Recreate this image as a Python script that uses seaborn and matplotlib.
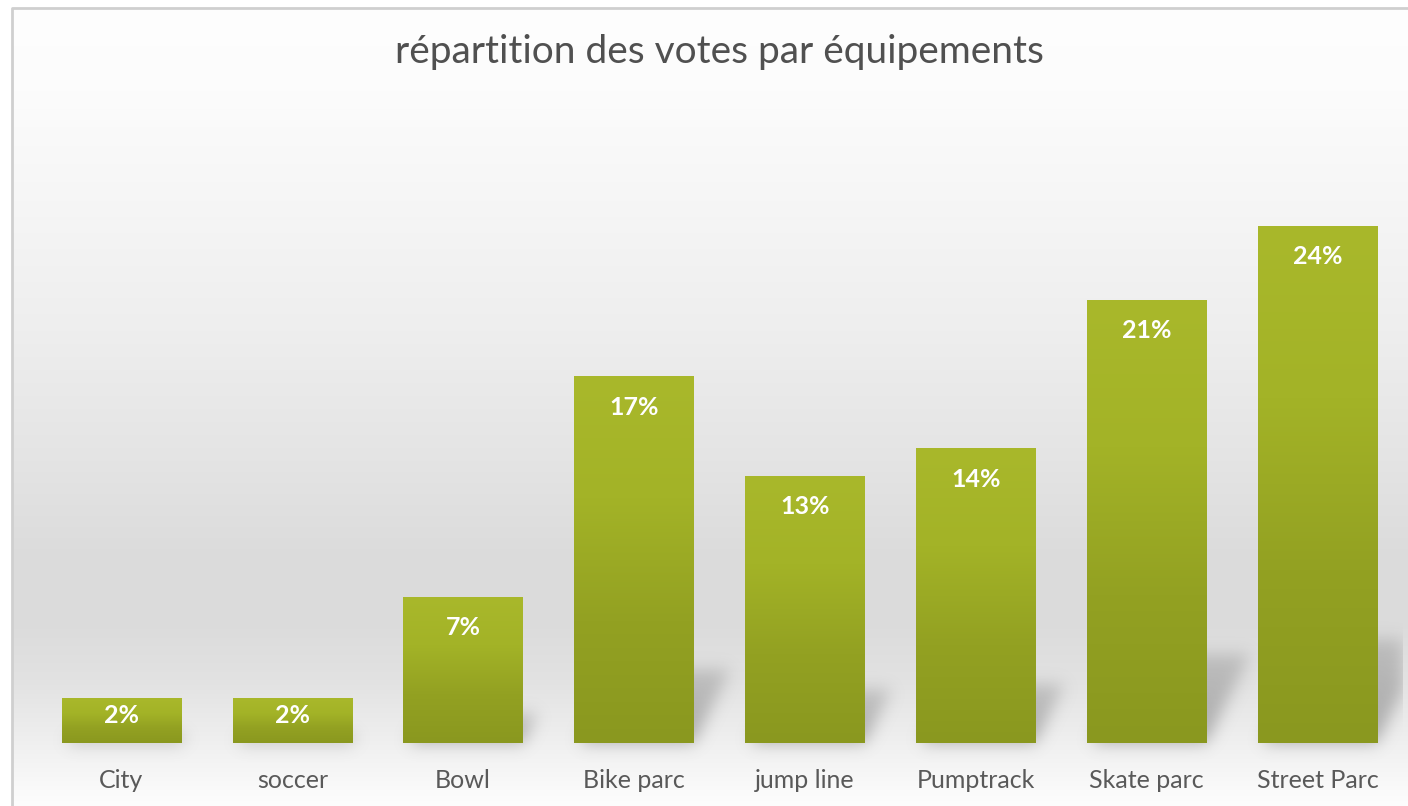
import numpy as np
import pandas as pd
import matplotlib
matplotlib.use("Agg")
import matplotlib.pyplot as plt
from matplotlib.path import Path
from matplotlib.colors import LinearSegmentedColormap
import seaborn as sns

# ---- data ----
categories = ["City", "soccer", "Bowl", "Bike parc", "jump line", "Pumptrack", "Skate parc", "Street Parc"]
values = [2.1, 2.1, 6.9, 17.3, 12.6, 13.9, 20.9, 24.4]   # percent of votes
labels = ["2%", "2%", "7%", "17%", "13%", "14%", "21%", "24%"]
title = "répartition des votes par équipements"

sns.set_theme(style="white")
plt.rcParams["font.family"] = ["Lato", "DejaVu Sans"]

W, H = 1408, 806
fig = plt.figure(figsize=(W / 100, H / 100), dpi=100)
fig.patch.set_facecolor("white")

# ---- background gradient panel ----
bg = fig.add_axes([12 / W, 0, 1 - 12 / W, (H - 8) / H])
bg.set_axis_off()
stops_y = np.array([0, 90, 200, 330, 460, 560, 620, 680, 745, 790, 806]) - 8
stops_c = np.array([254, 252, 246, 238, 228, 219, 219, 226, 240, 250, 253])
yy = np.arange(0, H - 8)
col = np.interp(yy, stops_y, stops_c) / 255.0
img = np.repeat(col[:, None], 4, axis=1)
bg.imshow(np.dstack([img, img, img]), aspect="auto", extent=[0, 1, 0, 1], origin="upper")
bg.set_xlim(0, 1); bg.set_ylim(0, 1)
bg.plot([0, 0, 1], [0, 1, 1], color="#cfcfcf", lw=2, transform=bg.transAxes, clip_on=False)

# ---- main axes ----
k_px = 21.2  # pixels per percent
base_y = 743
top_y = 100
ax_w_px = 1403 - 36
ax_h_px = base_y - top_y
ax = fig.add_axes([36 / W, (H - base_y) / H, ax_w_px / W, ax_h_px / H])
ax.set_facecolor("none")

df = pd.DataFrame({"cat": categories, "val": values})
sns.barplot(data=df, x="cat", y="val", ax=ax, width=0.70, color="#9aab25",
            saturation=1, errorbar=None, zorder=3)
ymax = ax_h_px / k_px
ax.set_ylim(0, ymax)
ax.set_xlim(-0.5, len(categories) - 0.5)

# ---- soft blurred shadows (raster built from the bar patches) ----
nx, ny = ax_w_px, ax_h_px + 40
xs = np.linspace(-0.5, len(categories) - 0.5, nx)
ys = np.linspace(-40 / k_px, ymax, ny)
XX, YY = np.meshgrid(xs, ys)
pts = np.column_stack([XX.ravel(), YY.ravel()])
mask = np.zeros(XX.shape)
unit_px = ax_w_px / len(categories)
for p in ax.patches:
    x0, w, h = p.get_x(), p.get_width(), p.get_height()
    dy = 0.20 * h
    dx = dy * k_px * 0.5 / unit_px
    path = Path([(x0 + 0.03, 0), (x0 + w, 0), (x0 + w + dx, dy), (x0 + 0.03 + dx, dy), (x0 + 0.03, 0)])
    m = path.contains_points(pts).reshape(XX.shape)
    fade = np.clip(1 - 0.45 * (YY / max(dy, 1e-6)), 0.45, 1)
    mask = np.maximum(mask, m * fade)

def blur(a, sigma):
    r = int(3 * sigma)
    kx = np.exp(-0.5 * (np.arange(-r, r + 1) / sigma) ** 2)
    kx /= kx.sum()
    a = np.apply_along_axis(lambda v: np.convolve(v, kx, mode="same"), 1, a)
    a = np.apply_along_axis(lambda v: np.convolve(v, kx, mode="same"), 0, a)
    return a

mask = blur(mask, 8)
shadow = np.zeros(mask.shape + (4,))
shadow[..., :3] = 0.45
shadow[..., 3] = np.clip(mask * 0.55, 0, 1)
ax.imshow(shadow, extent=[xs[0], xs[-1], ys[0], ys[-1]], origin="lower",
          aspect="auto", zorder=1, interpolation="bilinear", clip_on=False)

grad = LinearSegmentedColormap.from_list("g", ["#8a981f", "#93a122", "#a3b327", "#a9b82b"])
gimg = np.linspace(0, 1, 256)[:, None]

for p, lab in zip(ax.patches, labels):
    x0, w, h = p.get_x(), p.get_width(), p.get_height()
    p.set_facecolor("none")
    p.set_edgecolor("none")
    im = ax.imshow(gimg, cmap=grad, aspect="auto", extent=[x0, x0 + w, 0, h],
                   origin="lower", zorder=3, interpolation="bicubic")
    im.set_clip_path(p)
    off = min(31, h * k_px / 2 - 5)
    ax.annotate(lab, xy=(x0 + w / 2, h), xytext=(0, -off), textcoords="offset pixels",
                ha="center", va="center", color="white", fontsize=18, fontweight="bold", zorder=5)

ax.set_xlim(-0.5, len(categories) - 0.5)
ax.set_ylim(0, ymax)
ax.set_xlabel("")
ax.set_ylabel("")
ax.set_yticks([])
ax.tick_params(axis="x", length=0, pad=19, labelsize=18, labelcolor="#595959")
for s in ax.spines.values():
    s.set_visible(False)

fig.text(719 / W, 1 - 52 / H, title, ha="center", va="center", fontsize=28, color="#505050")

fig.savefig("out.png", dpi=100)
